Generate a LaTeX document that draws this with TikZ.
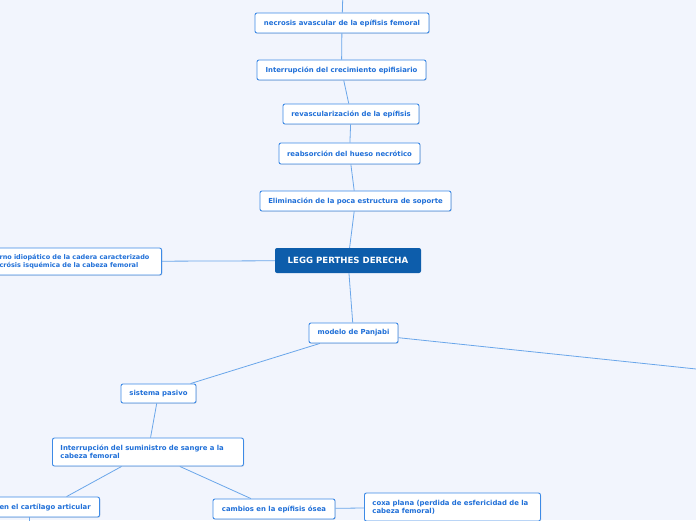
\documentclass[tikz,border=0pt]{standalone}
\usepackage{fontspec}
\setmainfont{DejaVu Sans}
\usetikzlibrary{shadows}
\definecolor{bgcol}{HTML}{F2F5FD}
\definecolor{txtcol}{HTML}{1F6FD8}
\definecolor{brdcol}{HTML}{3D8AE6}
\definecolor{lnkcol}{HTML}{6AA6EA}
\definecolor{rootcol}{HTML}{0D5DAB}
\tikzset{
  topic/.style={draw=brdcol,fill=white,rounded corners=2pt,line width=.9pt,text=txtcol,
                font=\fontsize{6.9}{8.2}\selectfont\bfseries,inner xsep=8pt,inner ysep=0pt,
                drop shadow={opacity=.18,shadow xshift=.8pt,shadow yshift=-.8pt}},
  topicl/.style={topic,align=left},
  root/.style ={fill=rootcol,rounded corners=2pt,text=white,font=\fontsize{8.6}{10}\selectfont\bfseries,
                minimum height=25pt,minimum width=146pt,inner sep=0pt},
  link/.style ={lnkcol,line width=.8pt},
}

\begin{document}
\begin{tikzpicture}[x=1pt,y=-1pt]
\clip (0,0) rectangle (696,520);
\fill[bgcol] (0,0) rectangle (696,520);

% ===================== NODOS =======================================
\node[root] (legg) at (348,260.5) {LEGG PERTHES DERECHA};

\node[topic,minimum width=174pt,minimum height=20pt] (nec)   at (342,23)    {necrosis avascular de la epífisis femoral};
\node[topic,minimum width=169pt,minimum height=20pt] (crec)  at (341.5,70)  {Interrupción del crecimiento epifisiario};
\node[topic,minimum width=136pt,minimum height=20pt] (revas) at (351,114)   {revascularización de la epífisis};
\node[topic,minimum width=141pt,minimum height=21pt] (reabs) at (349.5,153.5){reabsorción del hueso necrótico};
\node[topic,minimum width=191pt,minimum height=20pt] (elim)  at (355.5,201) {Eliminación de la poca estructura de soporte};

\node[topicl,text width=158pt,minimum height=27pt,inner xsep=4pt,font=\fontsize{6.5}{8.2}\selectfont\bfseries,anchor=east] (trast) at (162,261.5)
  {rno idiopático de la cadera caracterizado\\crósis isquémica de la cabeza femoral};

\node[topic,minimum width=89pt,minimum height=20pt]  (panj)  at (353.5,333) {modelo de Panjabi};
\node[topic,minimum width=75pt,minimum height=19pt]  (pasiv) at (158.5,393.5){sistema pasivo};
\node[topicl,text width=175pt,minimum height=28pt,anchor=west] (sumin) at (52,452)
  {Interrupción del suministro de sangre a la\\cabeza femoral};
\node[topicl,text width=96pt,minimum height=20pt,inner xsep=4pt,anchor=east] (cart) at (100,507) {en el cartílago articular};
\node[topic,minimum width=122pt,minimum height=20pt] (camb)  at (274,509)   {cambios en la epífisis ósea};
\node[topicl,text width=160pt,minimum height=28pt,anchor=west] (coxa) at (364,507)
  {coxa plana (perdida de esfericidad de la\\cabeza femoral)};

% extremos libres (fuera del cuadro)
\coordinate (up)     at (343,-10);
\coordinate (rgt)    at (720,371.5);
\coordinate (cartdn) at (29,530);

% ===================== CONEXIONES ==================================
\draw[link] (nec) -- (up);
\draw[link] (nec) -- (crec);
\draw[link] (crec) -- (revas);
\draw[link] (revas) -- (reabs);
\draw[link] (reabs) -- (elim);
\draw[link] (elim) -- (legg);
\draw[link] (legg) -- (trast);
\draw[link] (legg) -- (panj);
\draw[link] (panj) -- (rgt);
\draw[link] (panj) -- (pasiv);
\draw[link] (pasiv) -- (sumin);
\draw[link] (sumin) -- (cart);
\draw[link] (sumin) -- (camb);
\draw[link] (camb) -- (coxa);
\draw[link] (cart.south -| cartdn) -- (cartdn);

\end{tikzpicture}
\end{document}
